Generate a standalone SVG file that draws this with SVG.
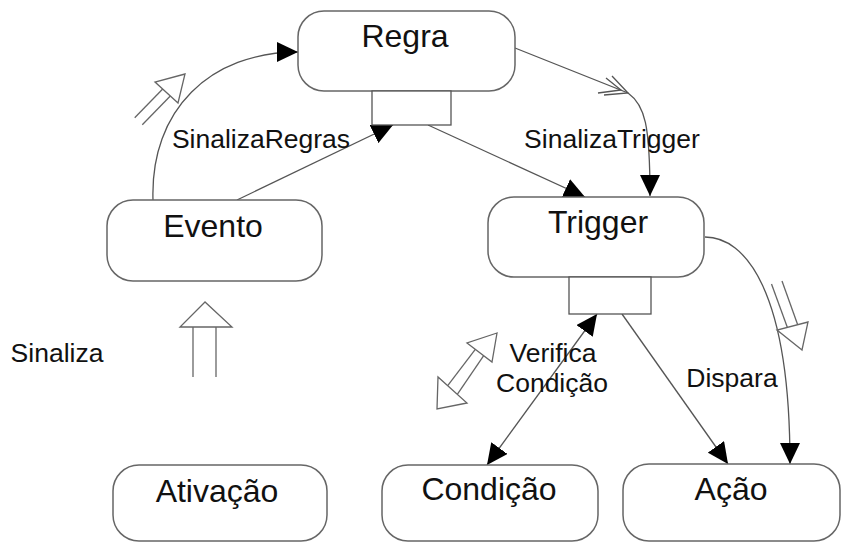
<svg xmlns="http://www.w3.org/2000/svg" width="844" height="543" viewBox="0 0 844 543">
  <defs>
    <marker id="tri" viewBox="0 0 21 20" refX="21" refY="10" markerWidth="21" markerHeight="20" markerUnits="userSpaceOnUse" orient="auto-start-reverse">
      <path d="M0,0 L21,10 L0,20 Z" fill="#000"/>
    </marker>
    <style>
      .box { fill: #fff; stroke: #666; stroke-width: 1.5; }
      .port { fill: #fff; stroke: #555; stroke-width: 1.3; }
      .lbl { font-family: "Liberation Sans", Arial, sans-serif; font-size: 32px; fill: #111; text-anchor: middle; }
      .elbl { font-family: "Liberation Sans", Arial, sans-serif; font-size: 26.5px; fill: #111; text-anchor: middle; }
      .edge { fill: none; stroke: #555; stroke-width: 1.3; }
      .hollow { fill: #fff; stroke: #666; stroke-width: 1.3; stroke-linejoin: miter; }
      .shaft { fill: none; stroke: #666; stroke-width: 1.3; }
    </style>
  </defs>

  <rect width="844" height="543" fill="#fff"/>

  <!-- connectors -->
  <g id="connectors">
    <!-- Evento to Regra (curved) -->
    <path class="edge" d="M153,200 C150,110 210,52 298,52" marker-end="url(#tri)"/>
    <!-- Evento to Regra port -->
    <path class="edge" d="M237,200 L393,125" marker-end="url(#tri)"/>
    <!-- Regra port to Trigger -->
    <path class="edge" d="M428,125 L585,197" marker-end="url(#tri)"/>
    <!-- Regra to Trigger (SinalizaTrigger) -->
    <path class="edge" d="M515,48 L628,93 C645,105 650,125 650,196" marker-end="url(#tri)"/>
    <!-- open double chevron on SinalizaTrigger -->
    <path class="edge" d="M612,76 L628,93 L604,95 M606,78 L621,90 L598,93"/>
    <!-- Trigger port to Condicao (both ends) -->
    <path class="edge" d="M597,314 L487,465" marker-start="url(#tri)" marker-end="url(#tri)"/>
    <!-- Trigger port to Acao -->
    <path class="edge" d="M622,314 L728,464" marker-end="url(#tri)"/>
    <!-- Trigger to Acao (curved) -->
    <path class="edge" d="M705,237 C745,237 790,290 790,464" marker-end="url(#tri)"/>

    <!-- hollow signal arrows -->
    <g id="sig-evento-regra">
      <line class="shaft" x1="162.7" y1="89" x2="134.7" y2="117.8"/>
      <line class="shaft" x1="170.3" y1="96" x2="142.3" y2="124.8"/>
      <polygon class="hollow" points="185,74 155,82 178,103"/>
    </g>
    <g id="sig-ativacao-evento">
      <line class="shaft" x1="193" y1="327" x2="193" y2="377"/>
      <line class="shaft" x1="216" y1="327" x2="216" y2="377"/>
      <polygon class="hollow" points="205,302 180,327 232,327"/>
    </g>
    <g id="sig-trigger-acao">
      <line class="shaft" x1="787.3" y1="327.3" x2="771.5" y2="284"/>
      <line class="shaft" x1="797.7" y1="324.7" x2="782" y2="281"/>
      <polygon class="hollow" points="802,350 777,330 808,322"/>
    </g>
    <g id="sig-verifica">
      <line class="shaft" x1="475.3" y1="349.3" x2="447.7" y2="385.7"/>
      <line class="shaft" x1="483.7" y1="355.7" x2="457.3" y2="394.3"/>
      <polygon class="hollow" points="497,333 467,343 492,362"/>
      <polygon class="hollow" points="437,409 438,377 467,403"/>
    </g>

    <!-- connector labels -->
    <text class="elbl" x="261" y="148">SinalizaRegras</text>
    <text class="elbl" x="612" y="148">SinalizaTrigger</text>
    <text class="elbl" x="57" y="362">Sinaliza</text>
    <text class="elbl" x="553" y="362">Verifica</text>
    <text class="elbl" x="552" y="392">Condição</text>
    <text class="elbl" x="732" y="387">Dispara</text>
  </g>

  <!-- nodes -->
  <g id="regra">
    <rect class="box" x="298" y="11" width="217" height="80" rx="26"/>
    <rect class="port" x="372" y="91" width="79" height="34"/>
    <text class="lbl" x="405" y="47">Regra</text>
  </g>
  <g id="evento">
    <rect class="box" x="107" y="200" width="215" height="81" rx="26"/>
    <text class="lbl" x="213" y="237">Evento</text>
  </g>
  <g id="trigger">
    <rect class="box" x="488" y="197" width="216" height="80" rx="26"/>
    <rect class="port" x="569" y="277" width="82" height="37"/>
    <text class="lbl" x="598" y="233">Trigger</text>
  </g>
  <g id="ativacao">
    <rect class="box" x="113" y="465" width="214" height="76" rx="26"/>
    <text class="lbl" x="217" y="502">Ativação</text>
  </g>
  <g id="condicao">
    <rect class="box" x="382" y="465" width="216" height="76" rx="26"/>
    <text class="lbl" x="489" y="500">Condição</text>
  </g>
  <g id="acao">
    <rect class="box" x="623" y="464" width="217" height="77" rx="26"/>
    <text class="lbl" x="731" y="500">Ação</text>
  </g>
</svg>
